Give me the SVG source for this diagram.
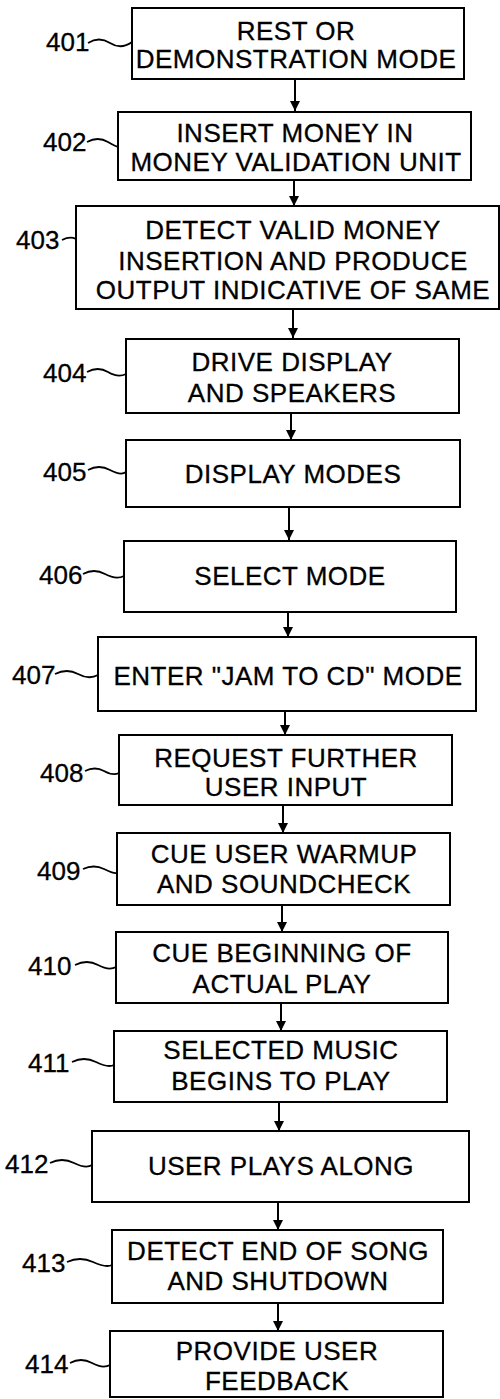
<svg xmlns="http://www.w3.org/2000/svg" width="500" height="1399" viewBox="0 0 500 1399">
<style>
.box{fill:#fff;stroke:#000;stroke-width:2}
.t{font-family:"Liberation Sans",Arial,Helvetica,sans-serif;font-size:26px;fill:#000;stroke:#000;stroke-width:0.3;letter-spacing:0.5px;text-anchor:middle}
.lbl{font-family:"Liberation Sans",Arial,Helvetica,sans-serif;font-size:26px;fill:#000;stroke:#000;stroke-width:0.3}
.ld{fill:none;stroke:#000;stroke-width:1.8}
.c{stroke:#000;stroke-width:2;fill:none;marker-end:url(#ah)}
</style>
<defs>
<marker id="ah" viewBox="0 0 10 10" refX="10" refY="5" markerWidth="10" markerHeight="10" markerUnits="userSpaceOnUse" orient="auto">
<path d="M0,0 L10,5 L0,10 Z" fill="#000"/>
</marker>
</defs>
<rect width="500" height="1399" fill="#fff"/>
<g id="connectors">
<line class="c" x1="295" y1="79" x2="295" y2="111"/>
<line class="c" x1="294" y1="180" x2="294" y2="206"/>
<line class="c" x1="293" y1="309" x2="293" y2="338"/>
<line class="c" x1="291" y1="413" x2="291" y2="440"/>
<line class="c" x1="289" y1="507" x2="289" y2="540"/>
<line class="c" x1="288" y1="612" x2="288" y2="637"/>
<line class="c" x1="285" y1="711" x2="285" y2="735"/>
<line class="c" x1="283" y1="805" x2="283" y2="833"/>
<line class="c" x1="282" y1="905" x2="282" y2="932"/>
<line class="c" x1="281" y1="1003" x2="281" y2="1031"/>
<line class="c" x1="279" y1="1102" x2="279" y2="1131"/>
<line class="c" x1="278" y1="1202" x2="278" y2="1230"/>
<line class="c" x1="278" y1="1303" x2="278" y2="1331"/>
</g>
<g id="n401">
<rect class="box" x="132" y="8" width="332" height="71"/>
<text class="t" x="296" y="40">REST OR</text>
<text class="t" x="296" y="68">DEMONSTRATION MODE</text>
<text class="lbl" x="46" y="51">401</text>
<path class="ld" d="M88,43 Q99,36 110,43 T132,42"/>
</g>
<g id="n402">
<rect class="box" x="118" y="112" width="353" height="68"/>
<text class="t" x="295" y="142">INSERT MONEY IN</text>
<text class="t" x="296" y="171">MONEY VALIDATION UNIT</text>
<text class="lbl" x="43" y="151">402</text>
<path class="ld" d="M87,142 Q98,136 108,142 T118,146"/>
</g>
<g id="n403">
<rect class="box" x="76" y="206" width="423" height="103"/>
<text class="t" x="293" y="239">DETECT VALID MONEY</text>
<text class="t" x="293" y="270">INSERTION AND PRODUCE</text>
<text class="t" x="293" y="299">OUTPUT INDICATIVE OF SAME</text>
<text class="lbl" x="16" y="249">403</text>
<path class="ld" d="M62,240 Q70,236 76,239"/>
</g>
<g id="n404">
<rect class="box" x="126" y="339" width="333" height="74"/>
<text class="t" x="292" y="371">DRIVE DISPLAY</text>
<text class="t" x="292" y="402">AND SPEAKERS</text>
<text class="lbl" x="43" y="382">404</text>
<path class="ld" d="M87,372 Q98,366 108,372 T126,374"/>
</g>
<g id="n405">
<rect class="box" x="126" y="440" width="334" height="67"/>
<text class="t" x="293" y="483">DISPLAY MODES</text>
<text class="lbl" x="43" y="481">405</text>
<path class="ld" d="M88,470 Q99,464 110,470 T126,472"/>
</g>
<g id="n406">
<rect class="box" x="124" y="541" width="332" height="71"/>
<text class="t" x="290" y="585">SELECT MODE</text>
<text class="lbl" x="39" y="584">406</text>
<path class="ld" d="M83,574 Q94,568 105,574 T124,576"/>
</g>
<g id="n407">
<rect class="box" x="98" y="637" width="378" height="74"/>
<text class="t" x="288" y="685">ENTER "JAM TO CD" MODE</text>
<text class="lbl" x="12" y="684">407</text>
<path class="ld" d="M55,674 Q67,668 78,674 T98,675"/>
</g>
<g id="n408">
<rect class="box" x="119" y="735" width="333" height="70"/>
<text class="t" x="286" y="767">REQUEST FURTHER</text>
<text class="t" x="286" y="796">USER INPUT</text>
<text class="lbl" x="40" y="782">408</text>
<path class="ld" d="M85,771 Q95,766 104,771 T119,773"/>
</g>
<g id="n409">
<rect class="box" x="117" y="833" width="333" height="72"/>
<text class="t" x="284" y="863">CUE USER WARMUP</text>
<text class="t" x="284" y="893">AND SOUNDCHECK</text>
<text class="lbl" x="37" y="880">409</text>
<path class="ld" d="M83,869 Q94,864 104,869 T117,873"/>
</g>
<g id="n410">
<rect class="box" x="116" y="932" width="332" height="71"/>
<text class="t" x="282" y="962">CUE BEGINNING OF</text>
<text class="t" x="282" y="993">ACTUAL PLAY</text>
<text class="lbl" x="28" y="975">410</text>
<path class="ld" d="M75,965 Q87,959 98,965 T116,967"/>
</g>
<g id="n411">
<rect class="box" x="114" y="1031" width="333" height="71"/>
<text class="t" x="281" y="1059">SELECTED MUSIC</text>
<text class="t" x="281" y="1090">BEGINS TO PLAY</text>
<text class="lbl" x="28" y="1072">411</text>
<path class="ld" d="M72,1062 Q84,1056 96,1062 T114,1065"/>
</g>
<g id="n412">
<rect class="box" x="92" y="1131" width="377" height="71"/>
<text class="t" x="281" y="1175">USER PLAYS ALONG</text>
<text class="lbl" x="5" y="1173">412</text>
<path class="ld" d="M50,1163 Q62,1157 74,1163 T92,1165"/>
</g>
<g id="n413">
<rect class="box" x="112" y="1230" width="331" height="73"/>
<text class="t" x="278" y="1260">DETECT END OF SONG</text>
<text class="t" x="278" y="1290">AND SHUTDOWN</text>
<text class="lbl" x="22" y="1272">413</text>
<path class="ld" d="M67,1262 Q80,1256 93,1262 T112,1265"/>
</g>
<g id="n414">
<rect class="box" x="110" y="1331" width="333" height="66"/>
<text class="t" x="277" y="1360">PROVIDE USER</text>
<text class="t" x="277" y="1390">FEEDBACK</text>
<text class="lbl" x="25" y="1373">414</text>
<path class="ld" d="M70,1363 Q81,1357 92,1363 T110,1365"/>
</g>
</svg>
